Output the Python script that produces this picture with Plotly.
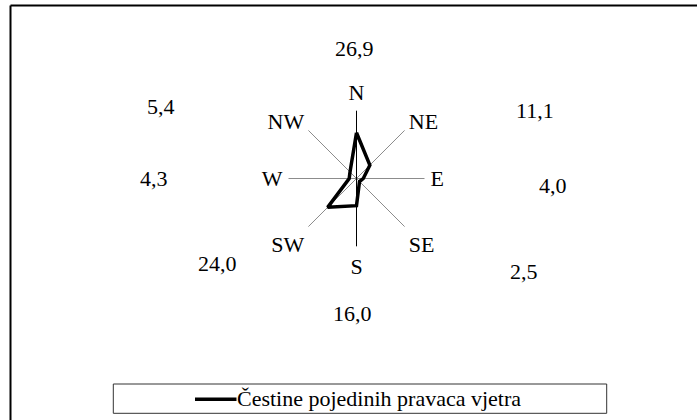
import plotly.graph_objects as go

W, H = 697, 420

directions = ["N", "NE", "E", "SE", "S", "SW", "W", "NW"]
frequencies = [26.9, 11.1, 4.0, 2.5, 16.0, 24.0, 4.3, 5.4]
value_labels = ["26,9", "11,1", "4,0", "2,5", "16,0", "24,0", "4,3", "5,4"]
series_name = "Čestine pojedinih pravaca vjetra"

# label placement (pixel centres) for the value labels
label_px = [(355, 48), (535, 111), (553, 185), (524, 271),
            (352, 313), (217, 263), (154, 178), (161, 106)]

FONT = "Liberation Serif, Times New Roman, DejaVu Serif"
FS = 22

cx, cy, rad = 356.5, 178.5, 68

fig = go.Figure()

# black north-south axis line through the centre
fig.add_trace(go.Scatterpolar(
    r=[40, 40], theta=["N", "S"], mode="lines",
    line=dict(color="black", width=1), showlegend=False, hoverinfo="skip"))

fig.add_trace(go.Scatterpolar(
    r=frequencies + [frequencies[0]],
    theta=directions + [directions[0]],
    mode="lines", name=series_name, showlegend=False,
    line=dict(color="black", width=3.5)))

fig.update_layout(
    width=W, height=H,
    margin=dict(l=0, r=0, t=0, b=0),
    paper_bgcolor="white",
    font=dict(family=FONT, size=FS, color="black"),
    polar=dict(
        domain=dict(x=[(cx - rad) / W, (cx + rad) / W],
                    y=[1 - (cy + rad) / H, 1 - (cy - rad) / H]),
        bgcolor="white",
        angularaxis=dict(type="category", categoryorder="array",
                         categoryarray=directions, rotation=90,
                         direction="clockwise", showline=False,
                         ticks="outside", ticklen=1,
                         tickcolor="rgba(0,0,0,0)",
                         gridcolor="#8c8c8c", gridwidth=1,
                         tickfont=dict(family=FONT, size=FS, color="black")),
        radialaxis=dict(range=[0, 40], showticklabels=False, showgrid=False,
                        showline=False, ticks=""),
    ),
    showlegend=False,
)

annotations = []
for txt, (px, py) in zip(value_labels, label_px):
    annotations.append(dict(text=txt, x=px / W, y=1 - py / H, xref="paper",
                            yref="paper", xanchor="center", yanchor="middle",
                            showarrow=False,
                            font=dict(family=FONT, size=FS, color="black")))
# legend text
annotations.append(dict(text=series_name, x=235 / W, y=1 - 398.5 / H,
                        xref="paper", yref="paper", xanchor="left",
                        yanchor="middle", showarrow=False,
                        font=dict(family=FONT, size=FS, color="black")))
fig.update_layout(annotations=annotations)

shapes = [
    # outer frame (left + top visible)
    dict(type="line", xref="paper", yref="paper", x0=10.5 / W, x1=10.5 / W,
         y0=-0.1, y1=1 - 5.5 / H, line=dict(color="black", width=2)),
    dict(type="line", xref="paper", yref="paper", x0=10.5 / W, x1=1.1,
         y0=1 - 5.5 / H, y1=1 - 5.5 / H, line=dict(color="black", width=2)),
    # legend box
    dict(type="rect", xref="paper", yref="paper", x0=113.3 / W, x1=606.7 / W,
         y0=1 - 413.3 / H, y1=1 - 384 / H, line=dict(color="#333333", width=1),
         fillcolor="rgba(0,0,0,0)"),
    # legend line sample
    dict(type="line", xref="paper", yref="paper", x0=195 / W, x1=236.5 / W,
         y0=1 - 399.3 / H, y1=1 - 399.3 / H, line=dict(color="black", width=3.5)),
]
fig.update_layout(shapes=shapes)

fig.write_html("out.html", config={"displayModeBar": False},
               post_script="document.body.style.margin='0';"
                           "document.body.style.padding='0';")
